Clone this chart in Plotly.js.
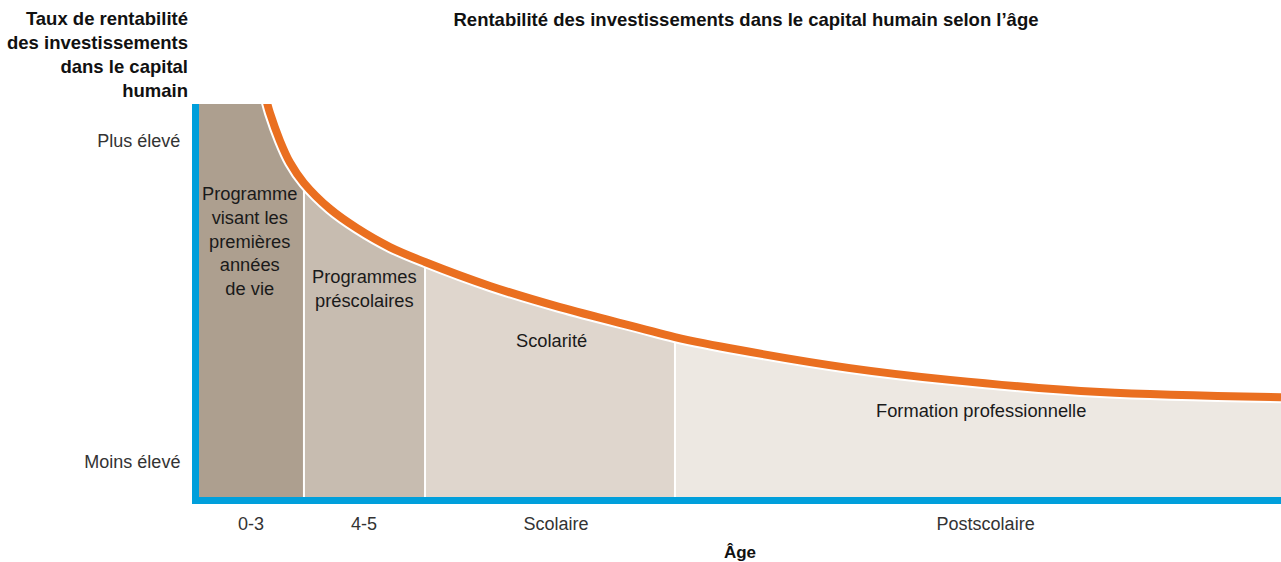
<!DOCTYPE html>
<html><head><meta charset="utf-8">
<script src="https://cdn.plot.ly/plotly-3.0.1.min.js"></script>
<style>html,body{margin:0;padding:0;background:#fff}</style>
</head><body><div id="chart" style="width:1281px;height:562px"></div>
<script>
// Return-on-investment curve (relative units: x = age scale 0-100, y = return 0-100)
const curveX = [0, 4.6, 5.45, 5.82, 6.19, 6.56, 7.49, 8.41, 9.70, 12.11, 14.60, 17.65, 20.89, 26.89, 33.36, 40.76, 43.99, 50.0, 60.17, 69.41, 83.27, 100];
const curveY = [135, 135, 109.2, 105.1, 101.3, 97.7, 90.6, 85.1, 79.9, 73.3, 68.4, 63.6, 59.8, 53.7, 48.3, 43.0, 40.7, 37.4, 32.8, 29.8, 26.7, 25.4];
// Stage boundaries along the age axis
const stageBounds = [0, 9.70, 20.89, 43.99, 100];
const stageLabels = ['Programme<br>visant les<br>premières<br>années<br>de vie', 'Programmes<br>préscolaires', 'Scolarité', 'Formation professionnelle'];
const stageLabelX = [4.7, 15.25, 32.6, 72.3];
const stageLabelY = [65.1, 53.1, 39.7, 22.1];
const ageTickVals = [4.81, 15.25, 33.0, 72.7];
const ageTickText = ['0-3', '4-5', 'Scolaire', 'Postscolaire'];
const rateTickVals = [90.6, 8.9];
const rateTickText = ['Plus élevé', 'Moins élevé'];

const stageColors = ['#ad9f8f', '#c7bcb0', '#dfd6cd', '#ede8e2'];
const BLUE = '#009fdb', ORANGE = '#ea6f20';
const FONT = 'Liberation Sans, Arial, Helvetica, sans-serif';

const traces = [];
for (let i = 0; i < stageLabels.length; i++) {
  const xs = [], ys = [];
  curveX.forEach((x, k) => {
    if (x >= stageBounds[i] - 1e-9 && x <= stageBounds[i + 1] + 1e-9) { xs.push(x); ys.push(curveY[k]); }
  });
  traces.push({x: xs, y: ys, type: 'scatter', mode: 'lines', fill: 'tozeroy',
    fillcolor: stageColors[i], line: {width: 0, shape: 'spline', color: stageColors[i]}, hoverinfo: 'skip'});
}
for (let i = 1; i < stageBounds.length - 1; i++) {
  traces.push({x: [stageBounds[i], stageBounds[i]], y: [0, 130], type: 'scatter', mode: 'lines',
    line: {width: 2, color: '#ffffff'}, hoverinfo: 'skip'});
}
traces.push({x: curveX, y: curveY, type: 'scatter', mode: 'lines',
  line: {width: 12, color: '#ffffff', shape: 'spline'}, hoverinfo: 'skip'});
traces.push({x: curveX, y: curveY, type: 'scatter', mode: 'lines',
  line: {width: 8, color: ORANGE, shape: 'spline'}, hoverinfo: 'skip'});

const annotations = stageLabels.map((t, i) => ({
  x: stageLabelX[i], y: stageLabelY[i], xref: 'x', yref: 'y', text: t, showarrow: false,
  xanchor: 'center', yanchor: 'middle', align: 'center',
  font: {family: FONT, size: 18.3, color: '#1a1a1a'}
}));
annotations.push({
  xref: 'paper', yref: 'paper', x: -9 / 1082, y: 1 + 98 / 393, xanchor: 'right', yanchor: 'top', align: 'right',
  text: '<b>Taux de rentabilité<br>des investissements<br>dans le capital<br>humain</b>', showarrow: false,
  font: {family: FONT, size: 18.5, color: '#111'}
});

const layout = {
  width: 1281, height: 562,
  margin: {l: 199, r: 0, t: 104, b: 65},
  paper_bgcolor: '#fff', plot_bgcolor: '#fff',
  showlegend: false,
  title: {text: '<b>Rentabilité des investissements dans le capital humain selon l’âge</b>',
    x: 746 / 1281, xanchor: 'center', xref: 'container', y: 1 - 20 / 562, yanchor: 'middle', yref: 'container',
    font: {family: FONT, size: 18.5, color: '#111'}},
  xaxis: {range: [0, 100], showline: true, linecolor: BLUE, linewidth: 7, showgrid: false, zeroline: false,
    ticks: '', tickvals: ageTickVals, ticktext: ageTickText, fixedrange: true, ticklabelstandoff: 4,
    tickfont: {family: FONT, size: 18, color: '#333'},
    title: {text: '<b>Âge</b>', font: {family: FONT, size: 17, color: '#111'}, standoff: 20}},
  yaxis: {range: [0, 100], showline: true, linecolor: BLUE, linewidth: 7, showgrid: false, zeroline: false,
    ticks: '', tickvals: rateTickVals, ticktext: rateTickText, fixedrange: true, ticklabelstandoff: 8,
    tickfont: {family: FONT, size: 18, color: '#333'}},
  annotations: annotations
};
Plotly.newPlot('chart', traces, layout, {displayModeBar: false, responsive: false});
</script></body></html>
